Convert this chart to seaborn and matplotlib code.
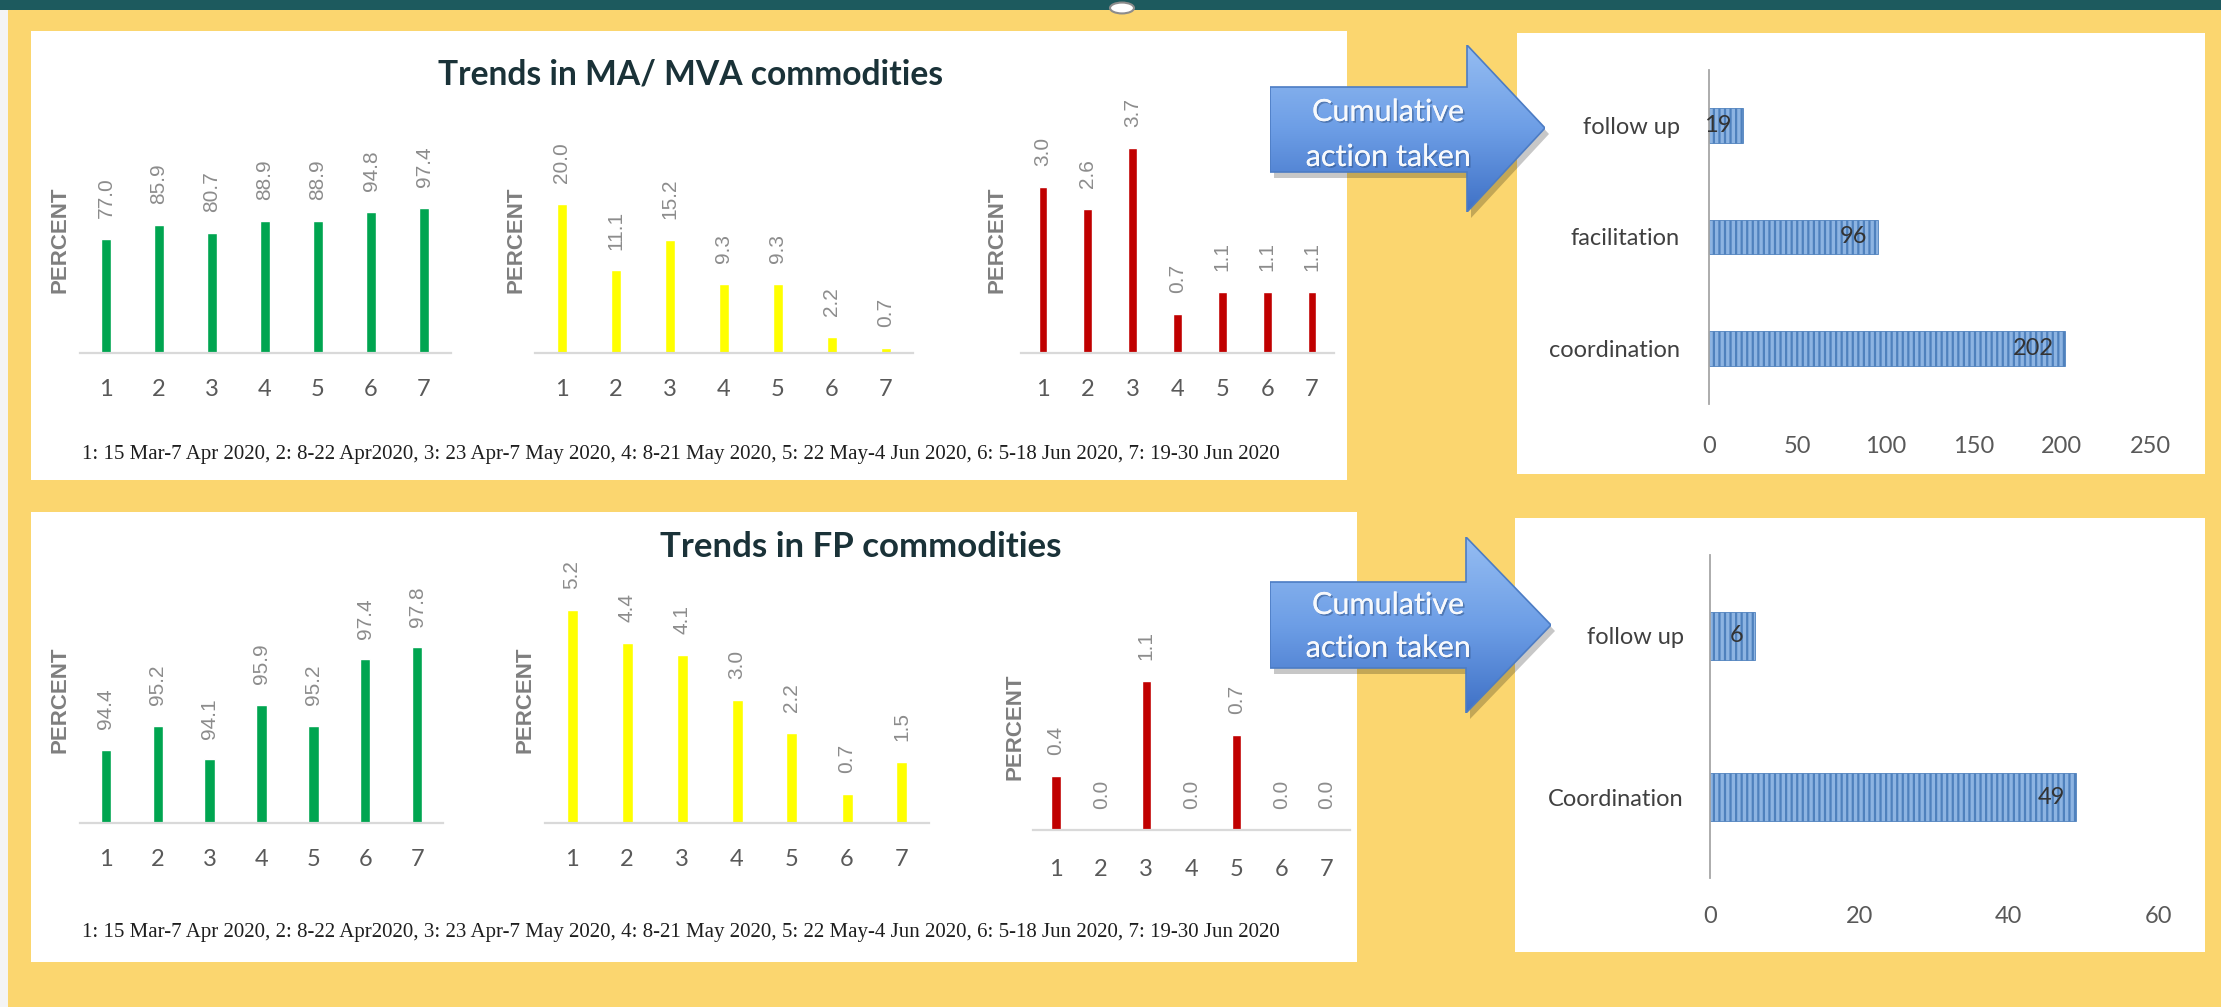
import numpy as np
import pandas as pd
import matplotlib
matplotlib.use('Agg')
import matplotlib.pyplot as plt
import matplotlib.patheffects as pe
from matplotlib.patches import Rectangle, Polygon, Circle
from matplotlib.colors import LinearSegmentedColormap
import seaborn as sns

W, H = 2221, 1007

# data
periods = ['1', '2', '3', '4', '5', '6', '7']
ma_green = [77.0, 85.9, 80.7, 88.9, 88.9, 94.8, 97.4]
ma_yellow = [20.0, 11.1, 15.2, 9.3, 9.3, 2.2, 0.7]
ma_red = [3.0, 2.6, 3.7, 0.7, 1.1, 1.1, 1.1]
fp_green = [94.4, 95.2, 94.1, 95.9, 95.2, 97.4, 97.8]
fp_yellow = [5.2, 4.4, 4.1, 3.0, 2.2, 0.7, 1.5]
fp_red = [0.4, 0.0, 1.1, 0.0, 0.7, 0.0, 0.0]

ma_actions = ['follow up', 'facilitation', 'coordination']
ma_action_counts = [19, 96, 202]
ma_action_ticks = [0, 50, 100, 150, 200, 250]
fp_actions = ['follow up', 'Coordination']
fp_action_counts = [6, 49]
fp_action_ticks = [0, 20, 40, 60]

title_ma = 'Trends in MA/ MVA commodities'
title_fp = 'Trends in FP commodities'
footnote = ('1: 15 Mar-7 Apr 2020, 2: 8-22 Apr2020, 3: 23 Apr-7 May 2020, 4: 8-21 May 2020, '
            '5: 22 May-4 Jun 2020, 6: 5-18 Jun 2020, 7: 19-30 Jun 2020')
arrow_lines = ['Cumulative', 'action taken']

GREEN, YELLOW, RED = '#00A550', '#FFFF00', '#C00000'
BG = '#FBD66F'

sns.set_style('white')
plt.rcParams['font.family'] = ['Lato', 'DejaVu Sans']
plt.rcParams['hatch.linewidth'] = 1.6

fig = plt.figure(figsize=(W / 100, H / 100), dpi=100)
fig.patch.set_facecolor(BG)
renderer = fig.canvas.get_renderer()


def box(x0, y0, x1, y1):
    # pixel box (top-left origin) -> figure fraction rect
    return [x0 / W, 1 - y1 / H, (x1 - x0) / W, (y1 - y0) / H]


def panel(x0, y0, x1, y1, color='white', z=-5):
    fig.add_artist(Rectangle((x0 / W, 1 - y1 / H), (x1 - x0) / W, (y1 - y0) / H,
                             transform=fig.transFigure, facecolor=color,
                             edgecolor='none', zorder=z))


def fit(t, width):
    bb = t.get_window_extent(renderer)
    t.set_fontsize(t.get_fontsize() * width / bb.width)


# backdrop
panel(0, 0, 8, H, '#F4F4F4', z=-6)
panel(0, 0, W, 10, '#1D5A5E', z=-4)
panel(31, 31, 1347, 480)
panel(31, 512, 1357, 962)
panel(1517, 33, 2205, 474)
panel(1515, 518, 2205, 952)
fig.add_artist(Circle((1122 / W, 1 - 8 / H), 12 / W, transform=fig.transFigure,
                      facecolor='white', edgecolor='#8C8C8C', lw=1.5, zorder=6))


def trend(x0, x1, top, base, vals, color, ylim, pad):
    ax = fig.add_axes(box(x0, top, x1, base))
    df = pd.DataFrame({'period': periods, 'pct': vals})
    sns.barplot(data=df, x='period', y='pct', color=color, saturation=1,
                width=0.2, ax=ax)
    ax.set_xlim(-0.5, 6.5)
    ax.set_ylim(*ylim)
    ax.set_facecolor('none')
    for s in ['top', 'right', 'left']:
        ax.spines[s].set_visible(False)
    ax.spines['bottom'].set_color('#D9D9D9')
    ax.spines['bottom'].set_linewidth(1.6)
    ax.set_yticks([])
    ax.set_xlabel('')
    ax.set_ylabel('')
    ax.tick_params(axis='x', length=0, pad=pad, labelsize=17, labelcolor='#595959')
    for bars in ax.containers:
        ax.bar_label(bars, fmt='%.1f', rotation=90, padding=15, color='#8C8C8C',
                     fontsize=15, family=['Liberation Sans'])
    return ax


# top row: MA / MVA
trend(79.5, 450.5, 130, 353, ma_green, GREEN, (0, 150), 19)
trend(535, 913, 130, 353, ma_yellow, YELLOW, (0, 30), 19)
trend(1020.6, 1334.4, 131, 353, ma_red, RED, (0, 4), 19)
# bottom row: FP
trend(80, 443, 611, 823, fp_green, GREEN, (92, 99), 19)
trend(544.5, 929.5, 577, 823, fp_yellow, YELLOW, (0, 6), 19)
trend(1033.4, 1349.6, 667, 830, fp_red, RED, (0, 1.2), 21)

for x, y in [(60, 240), (516, 240), (997, 240), (60, 700), (525, 700), (1015, 727)]:
    fig.text(x / W, 1 - y / H, 'PERCENT', rotation=90, ha='center', va='center',
             fontsize=16, fontweight='bold', color='#7F7F7F',
             family=['Liberation Sans'])

for txt, x, y, w in [(title_ma, 691, 75, 506), (title_fp, 861, 547, 403)]:
    t = fig.text(x / W, 1 - y / H, txt, ha='center', va='center', fontsize=20,
                 fontweight='bold', color='#1A3238')
    fit(t, w)

for y in [455, 932]:
    t = fig.text(681 / W, 1 - y / H, footnote, ha='center', va='center',
                 fontsize=14, color='#1E1E1E', family=['Liberation Serif'])
    fit(t, 1202)


def actions(x0, x1, y0, y1, cats, counts, ticks, barw, ypad, xpad):
    ax = fig.add_axes(box(x0, y0, x1, y1))
    sns.barplot(x=counts, y=cats, orient='h', color='#8DB4E2', saturation=1,
                width=barw, ax=ax, edgecolor='#4F81BD', linewidth=0.6, hatch='|||')
    ax.set_xlim(ticks[0], ticks[-1])
    ax.set_ylim(len(cats) - 0.5, -0.5)
    ax.set_xticks(ticks)
    ax.set_facecolor('none')
    for s in ['top', 'right', 'bottom']:
        ax.spines[s].set_visible(False)
    ax.spines['left'].set_color('#A6A6A6')
    ax.spines['left'].set_linewidth(1.3)
    ax.set_xlabel('')
    ax.set_ylabel('')
    ax.tick_params(axis='x', length=0, pad=xpad, labelsize=17, labelcolor='#595959')
    ax.tick_params(axis='y', length=0, pad=ypad, labelsize=17, labelcolor='#404040')
    for i, v in enumerate(counts):
        ax.annotate(str(v), (v, i), xytext=(-8, 0), textcoords='offset points',
                    ha='right', va='center', fontsize=17, color='#333333')
    return ax


actions(1709, 2150, 70, 404, ma_actions, ma_action_counts, ma_action_ticks, 0.31, 21, 23)
actions(1710, 2158, 555, 878, fp_actions, fp_action_counts, fp_action_ticks, 0.3, 19, 20)

arrow_cmap = LinearSegmentedColormap.from_list('arr', ['#95BDF2', '#6D9EE6', '#3F71C6'])


def arrow(x0, xh, x1, by0, by1, hy0, hy1, tipy, ty):
    pts = [(x0, by0), (xh, by0), (xh, hy0), (x1, tipy), (xh, hy1), (xh, by1), (x0, by1)]
    shadow = [((x + 4) / W, 1 - (y + 6) / H) for x, y in pts]
    fig.add_artist(Polygon(shadow, transform=fig.transFigure, facecolor='black',
                           alpha=0.22, edgecolor='none', zorder=1))
    ax = fig.add_axes(box(x0, hy0, x1, hy1), zorder=2)
    ax.axis('off')
    grad = np.linspace(0, 1, 256).reshape(-1, 1)
    im = ax.imshow(grad, extent=(x0, x1, hy1, hy0), cmap=arrow_cmap, aspect='auto')
    poly = Polygon(pts, facecolor='none', edgecolor='#4C7CC4', lw=1.2)
    ax.add_patch(poly)
    im.set_clip_path(poly)
    ax.set_xlim(x0, x1)
    ax.set_ylim(hy1, hy0)
    for line, y in zip(arrow_lines, ty):
        fig.text(1388 / W, 1 - y / H, line, ha='center', va='center', fontsize=22,
                 color='#F7F9FC', zorder=5,
                 path_effects=[pe.withSimplePatchShadow(offset=(1.2, -1.2),
                                                        shadow_rgbFace='#2E4F80', alpha=0.5),
                               pe.Normal()])


arrow(1270, 1467, 1545, 87, 172, 45, 212, 128, [112, 157])
arrow(1270, 1466, 1551, 582, 668, 537, 713, 625, [605, 648])

fig.savefig('out.png', dpi=100, facecolor=BG)
